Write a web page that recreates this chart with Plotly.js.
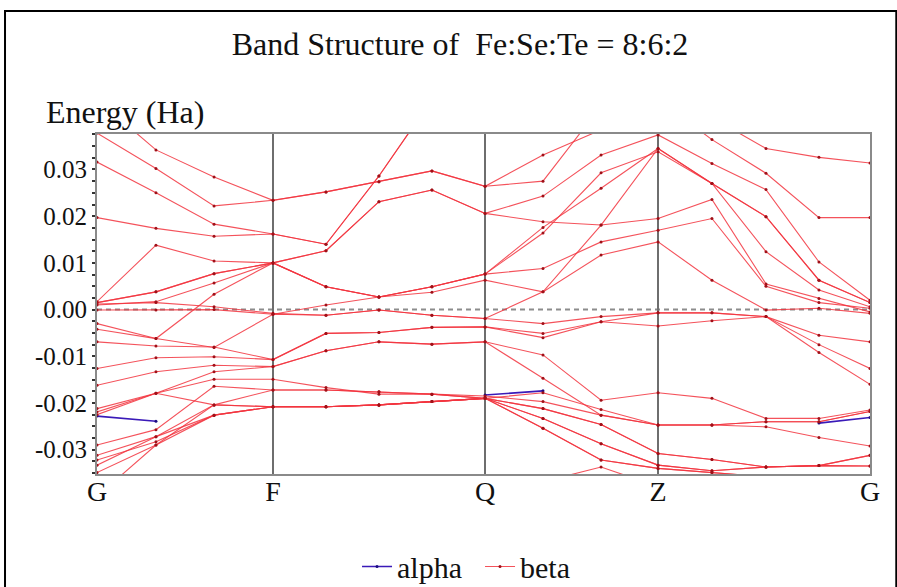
<!DOCTYPE html>
<html>
<head>
<meta charset="utf-8">
<script src="https://cdn.plot.ly/plotly-3.0.1.min.js"></script>
<style>html,body{margin:0;padding:0;background:#fff;}#chart{width:897px;height:587px;}</style>
</head>
<body>
<div id="chart"></div>
<script>
// k-path distance of each k-point (high-symmetry points G, F, Q, Z, G)
const kDist = [0, 0.335, 0.665, 1.0, 1.301, 1.602, 1.903, 2.205, 2.534, 2.864, 3.188, 3.494, 3.801, 4.102, 4.392];
const symPos = [0, 1.0, 2.205, 3.188, 4.392];
const symLabels = ['G', 'F', 'Q', 'Z', 'G'];
const yTickVals = [-0.03, -0.02, -0.01, 0.00, 0.01, 0.02, 0.03];
const yTickText = ['-0.03', '-0.02', '-0.01', '0.00', '0.01', '0.02', '0.03'];

// beta-spin bands (Ha)
const b01 = [0.0450, 0.0342, 0.0284, 0.0234, 0.0252, 0.0274, 0.0297, 0.0264, 0.0331, 0.0385, 0.0450, 0.0364, 0.0292, 0.0197, 0.0197];
const b02 = [0.0378, 0.0302, 0.0222, 0.0234, 0.0252, 0.0274, 0.0297, 0.0264, 0.0275, 0.0436, 0.0500, 0.0411, 0.0345, 0.0326, 0.0314];
const b03 = [0.0316, 0.0250, 0.0183, 0.0162, 0.0140, 0.0286, 0.0450, 0.0500, 0.0550, 0.0600, 0.0600, 0.0600, 0.0600, 0.0600, 0.0600];
const b04 = [0.0197, 0.0174, 0.0157, 0.0162, 0.0140, 0.0286, 0.0450, 0.0500, 0.0550, 0.0600, 0.0600, 0.0600, 0.0600, 0.0600, 0.0600];
const b05 = [0.0017, 0.0138, 0.0104, 0.0100, 0.0126, 0.0231, 0.0256, 0.0206, 0.0243, 0.0331, 0.0374, 0.0313, 0.0257, 0.0102, 0.0020];
const b06 = [0.0015, 0.0038, 0.0077, 0.0100, 0.0049, 0.0027, 0.0049, 0.0076, 0.0176, 0.0260, 0.0345, 0.0270, 0.0199, 0.0063, 0.0015];
const b07 = [0.0010, 0.0017, 0.0057, 0.0100, 0.0126, 0.0231, 0.0256, 0.0206, 0.0188, 0.0181, 0.0195, 0.0236, 0.0055, 0.0024, -0.0005];
const b08 = [-0.0042, -0.0062, 0.0033, 0.0100, 0.0049, 0.0027, 0.0049, 0.0076, 0.0164, 0.0293, 0.0338, 0.0270, 0.0124, 0.0042, 0.0006];
const b09 = [0.0012, 0.0015, 0.0006, -0.0008, -0.0012, -0.0001, -0.0012, -0.0019, -0.0030, -0.0015, -0.0007, -0.0007, -0.0015, -0.0055, -0.0069];
const b10 = [-0.0001, -0.0001, 0.0000, -0.0010, 0.0010, 0.0027, 0.0037, 0.0063, 0.0038, 0.0117, 0.0145, 0.0063, -0.0001, 0.0003, -0.0008];
const b11 = [-0.0030, -0.0062, -0.0081, -0.0010, -0.0012, -0.0001, -0.0012, -0.0019, 0.0038, 0.0181, 0.0345, 0.0270, 0.0199, 0.0063, 0.0015];
const b12 = [-0.0069, -0.0078, -0.0080, -0.0107, -0.0051, -0.0049, -0.0038, -0.0037, -0.0051, -0.0026, -0.0007, -0.0007, -0.0015, -0.0092, -0.0160];
const b13 = [-0.0126, -0.0103, -0.0101, -0.0107, -0.0051, -0.0049, -0.0038, -0.0037, -0.0060, -0.0026, -0.0035, -0.0024, -0.0015, -0.0075, -0.0126];
const b14 = [-0.0162, -0.0133, -0.0119, -0.0122, -0.0088, -0.0069, -0.0074, -0.0069, -0.0097, -0.0194, -0.0178, -0.0190, -0.0233, -0.0233, -0.0215];
const b15 = [-0.0219, -0.0179, -0.0133, -0.0122, -0.0088, -0.0069, -0.0074, -0.0069, -0.0147, -0.0226, -0.0247, -0.0247, -0.0240, -0.0240, -0.0218];
const b16 = [-0.0212, -0.0179, -0.0149, -0.0149, -0.0167, -0.0181, -0.0181, -0.0185, -0.0197, -0.0226, -0.0247, -0.0247, -0.0251, -0.0274, -0.0292];
const b17 = [-0.0225, -0.0179, -0.0204, -0.0172, -0.0172, -0.0176, -0.0181, -0.0190, -0.0212, -0.0246, -0.0308, -0.0321, -0.0337, -0.0334, -0.0312];
const b18 = [-0.0290, -0.0257, -0.0164, -0.0172, -0.0172, -0.0176, -0.0181, -0.0190, -0.0233, -0.0287, -0.0333, -0.0345, -0.0337, -0.0334, -0.0335];
const b19 = [-0.0312, -0.0272, -0.0226, -0.0208, -0.0208, -0.0204, -0.0197, -0.0190, -0.0254, -0.0322, -0.0340, -0.0349, -0.0358, -0.0360, -0.0360];
const b20 = [-0.0322, -0.0283, -0.0226, -0.0208, -0.0208, -0.0204, -0.0197, -0.0190, -0.0178, -0.0214, -0.0247, -0.0247, -0.0240, -0.0240, -0.0218];
const b21 = [-0.0333, -0.0272, -0.0204, -0.0208, -0.0208, -0.0204, -0.0197, -0.0190, -0.0254, -0.0322, -0.0340, -0.0349, -0.0358, -0.0360, -0.0360];
const b22 = [0.0015, 0.0038, 0.0077, 0.0100, 0.0049, 0.0027, 0.0049, 0.0076, 0.0088, 0.0145, 0.0170, 0.0195, 0.0050, 0.0015, 0.0003];
const b23 = [-0.0400, -0.0290, -0.0226, -0.0208, -0.0208, -0.0204, -0.0197, -0.0190, -0.0233, -0.0287, -0.0333, -0.0345, -0.0337, -0.0334, -0.0335];
const b24 = [-0.0450, -0.0450, -0.0450, -0.0450, -0.0450, -0.0450, -0.0450, -0.0400, -0.0368, -0.0337, -0.0379, -0.0400, -0.0400, -0.0400, -0.0400];
const b25 = [-0.0349, -0.0290, -0.0204, -0.0208, -0.0208, -0.0204, -0.0197, -0.0190, -0.0212, -0.0246, -0.0308, -0.0321, -0.0337, -0.0334, -0.0312];
const betaBands = [b01, b02, b03, b04, b05, b06, b07, b08, b09, b10, b11, b12, b13, b14, b15, b16, b17, b18, b19, b20, b21, b22, b23, b24, b25];

// alpha-spin bands where they differ visibly from beta (Ha); null = identical to beta / hidden
const a01 = [-0.0228, -0.0239, null, null, null, null, null, null, null, null, null, null, null, null, null];
const a02 = [null, null, null, null, null, null, null, -0.0183, -0.0174, null, null, null, null, null, null];
const a03 = [null, null, null, null, null, null, null, null, null, null, null, null, null, -0.0243, -0.0231];
const alphaBands = [a01, a02, a03];

const serif = 'Liberation Serif, Times New Roman, serif';
const traces = [];
alphaBands.forEach((b, i) => {
  traces.push({
    x: kDist, y: b, type: 'scatter', mode: 'lines+markers', name: 'alpha',
    legendgroup: 'alpha', showlegend: i === 0, connectgaps: false,
    line: {color: '#3a1ab8', width: 1.6},
    marker: {color: '#1a0a80', size: 3}
  });
});
betaBands.forEach((b, i) => {
  traces.push({
    x: kDist, y: b, type: 'scatter', mode: 'lines+markers', name: 'beta',
    legendgroup: 'beta', showlegend: i === 0,
    line: {color: 'rgba(242,52,62,0.85)', width: 1.1},
    marker: {color: '#a01018', size: 3}
  });
});

const layout = {
  width: 897, height: 587,
  margin: {l: 97, r: 27, t: 134, b: 113, autoexpand: false},
  paper_bgcolor: '#ffffff', plot_bgcolor: '#ffffff',
  font: {family: serif, color: '#111'},
  title: {
    text: 'Band Structure of&nbsp;&nbsp;Fe:Se:Te = 8:6:2',
    font: {family: serif, size: 32, color: '#111'},
    xref: 'paper', x: 0.4696, xanchor: 'center',
    yref: 'container', y: 0.925, yanchor: 'middle'
  },
  xaxis: {
    range: [0, 4.392],
    tickmode: 'array', tickvals: symPos, ticktext: symLabels,
    showgrid: true, gridcolor: '#6e6e6e', gridwidth: 2,
    showline: true, linecolor: '#8a8a8a', linewidth: 2, mirror: true,
    zeroline: false, ticks: '', automargin: false, ticklabelstandoff: -9,
    tickfont: {family: serif, size: 28, color: '#111'}
  },
  yaxis: {
    range: [-0.0352, 0.0376],
    tickmode: 'array', tickvals: yTickVals, ticktext: yTickText,
    showgrid: false, zeroline: false, automargin: false,
    showline: true, linecolor: '#8a8a8a', linewidth: 2, mirror: true,
    ticks: 'outside', ticklen: 3, tickwidth: 2, tickcolor: '#333',
    minor: {ticks: 'outside', dtick: 0.0025, ticklen: 3, tickwidth: 2, tickcolor: '#333'},
    tickfont: {family: serif, size: 25, color: '#111'}
  },
  showlegend: true,
  legend: {
    orientation: 'h', x: 0.4955, xanchor: 'center', y: -0.272, yanchor: 'middle',
    font: {family: serif, size: 30, color: '#111'},
    bgcolor: 'rgba(0,0,0,0)', itemwidth: 30, entrywidth: 78
  },
  shapes: [
    {type: 'line', xref: 'paper', x0: 0, x1: 1, yref: 'y', y0: 0, y1: 0,
     line: {color: '#8c8c8c', width: 2, dash: '5px,4px'}, layer: 'below'},
    {type: 'rect', xref: 'paper', x0: -0.119, x1: 1.034, yref: 'paper', y0: -0.6, y1: 1.362,
     line: {color: '#000', width: 2}, fillcolor: 'rgba(0,0,0,0)'}
  ],
  annotations: [
    {text: 'Energy (Ha)', xref: 'paper', x: -0.068, xanchor: 'left',
     yref: 'paper', y: 1.065, yanchor: 'middle', showarrow: false,
     font: {family: serif, size: 32, color: '#111'}}
  ]
};

Plotly.newPlot('chart', traces, layout, {displayModeBar: false, staticPlot: true});
</script>
</body>
</html>
